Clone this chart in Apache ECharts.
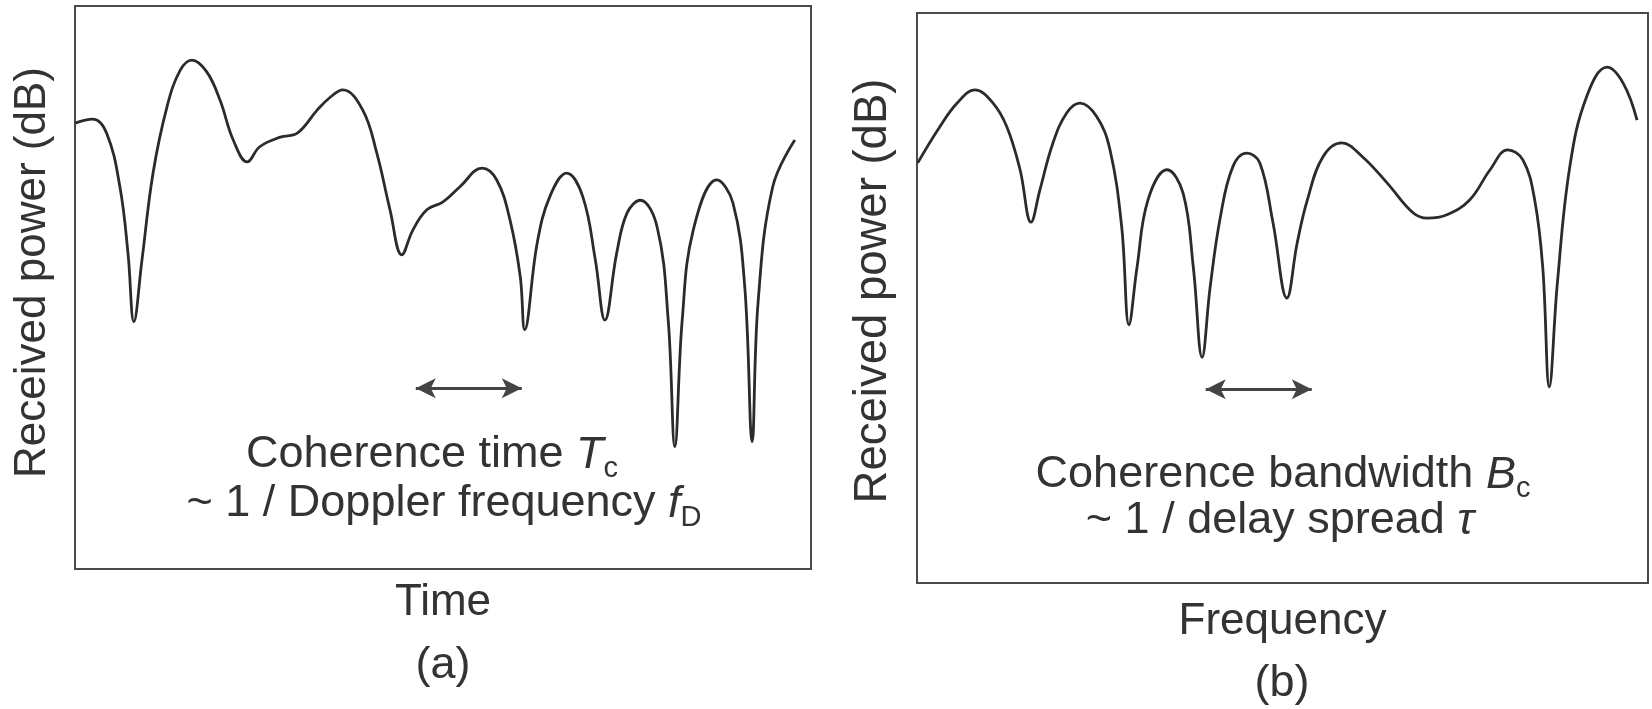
<!DOCTYPE html>
<html>
<head>
<meta charset="utf-8">
<script src="https://cdn.jsdelivr.net/npm/echarts@6.0.0/dist/echarts.min.js"></script>
<style>
  html, body { margin: 0; padding: 0; background: #fff; }
  #chart { width: 1652px; height: 709px; }
</style>
</head>
<body>
<div id="chart"></div>
<script>
// (a) received power against time (relative units)
var timeAxis = [0, 2.4, 4.3, 6.1, 7.2, 8.0, 9.1, 10.6, 12.5, 14.3,
  15.9, 17.9, 19.7, 21.5, 23.4, 25.1, 27.9, 30.2, 32.9, 34.6,
  36.4, 39.1, 41.0, 42.8, 44.4, 45.9, 47.8, 50.0, 52.3, 55.3,
  57.3, 59.1, 60.5, 61.1, 62.8, 64.5, 66.8, 69.0, 70.7, 72.0,
  73.6, 75.0, 76.8, 79.1, 80.6, 81.5, 82.5, 84.0, 87.2, 89.4,
  91.0, 92.0, 92.8, 94.8, 97.8];
var timePower = [79.2, 79.9, 77.4, 67.9, 56.1, 43.9, 54.9, 70.3, 82.1, 88.6,
  90.4, 88.3, 83.3, 76.2, 72.3, 75.0, 76.7, 77.4, 81.5, 83.7,
  85.1, 81.5, 73.9, 63.8, 55.8, 60.2, 63.8, 65.2, 67.9, 71.2,
  69.1, 62.0, 51.9, 42.5, 57.9, 66.1, 70.3, 66.1, 54.9, 44.2,
  56.1, 63.2, 65.5, 60.7, 44.2, 21.7, 44.2, 60.2, 69.1, 65.0,
  50.1, 22.6, 47.2, 67.9, 76.2];

// (b) received power against frequency (relative units)
var freqAxis = [0.1, 3.1, 5.5, 7.9, 10.4, 12.3, 14.1, 15.6, 16.8, 18.6,
  20.5, 22.3, 24.6, 26.4, 28.0, 29.0, 30.1, 31.6, 34.2, 36.4,
  37.8, 39.0, 40.1, 41.5, 43.2, 45.1, 46.9, 48.7, 50.6, 52.0,
  53.4, 55.5, 58.1, 61.0, 64.3, 67.9, 69.8, 72.5, 75.6, 78.4,
  80.8, 82.9, 84.5, 85.6, 86.5, 87.6, 89.3, 91.6, 94.4, 96.6,
  98.5];
var freqPower = [73.7, 80.0, 84.2, 86.5, 84.2, 80.0, 72.5, 63.3, 68.9, 77.2,
  82.5, 84.2, 81.8, 76.0, 62.5, 45.3, 55.4, 67.2, 72.5, 68.4,
  55.4, 39.6, 51.9, 64.2, 73.0, 75.4, 73.7, 63.2, 50.0, 59.6,
  67.2, 74.7, 77.2, 74.7, 70.2, 64.9, 64.0, 64.6, 67.2, 72.5,
  76.0, 74.2, 67.2, 55.4, 34.4, 52.6, 73.0, 85.3, 90.5, 87.7,
  81.2];

// double arrows: [from, to, level]
var timeArrow = [46.3, 60.7, 32.1];
var freqArrow = [39.5, 54.0, 34.0];

var FONT = '"Liberation Sans", Arial, Helvetica, sans-serif';
var INK = '#333';
var LINE = '#2b2b2b';

function pairs(xs, ys) {
  return xs.map(function (x, i) { return [x, ys[i]]; });
}

function xAx(idx, name, gap) {
  return {
    type: 'value', gridIndex: idx, min: 0, max: 100,
    axisLine: { show: false }, axisTick: { show: false },
    axisLabel: { show: false }, splitLine: { show: false },
    name: name, nameLocation: 'middle', nameGap: gap,
    nameTextStyle: { fontSize: 44, color: INK, fontFamily: FONT }
  };
}

function yAx(idx, gap, size, shift) {
  return {
    type: 'value', gridIndex: idx, min: 0, max: 100,
    axisLine: { show: false }, axisTick: { show: false },
    axisLabel: { show: false }, splitLine: { show: false },
    name: 'Received power (dB)', nameLocation: 'middle', nameRotate: 90, nameGap: gap,
    nameTextStyle: { fontSize: size, color: INK, fontFamily: FONT, padding: [0, 0, 0, shift] }
  };
}

function arrowLine(a) {
  return {
    silent: true,
    symbol: ['arrow', 'arrow'],
    symbolSize: [15, 20],
    label: { show: false },
    lineStyle: { color: '#444', width: 3, type: 'solid' },
    data: [[{ coord: [a[0], a[2]] }, { coord: [a[1], a[2]] }]]
  };
}

var rich = {
  n: { fontSize: 45, fontFamily: FONT, color: INK, lineHeight: 56 },
  i: { fontSize: 45, fontFamily: FONT, fontStyle: 'italic', color: INK, lineHeight: 56 },
  s: { fontSize: 29, fontFamily: FONT, color: INK, lineHeight: 30, verticalAlign: 'bottom' }
};

function note(x, y, text) {
  return {
    type: 'text', x: x, y: y, silent: true,
    style: {
      text: text, rich: rich, fill: INK, font: '45px ' + FONT,
      align: 'center', verticalAlign: 'middle',
      textAlign: 'center', textVerticalAlign: 'middle'
    }
  };
}

var chart = echarts.init(document.getElementById('chart'));
chart.setOption({
  backgroundColor: '#ffffff',
  animation: false,
  grid: [
    { left: 75, top: 6, width: 736, height: 563, show: true, borderColor: '#4a4a4a', borderWidth: 2 },
    { left: 917, top: 13, width: 731, height: 570, show: true, borderColor: '#4a4a4a', borderWidth: 2 }
  ],
  xAxis: [xAx(0, 'Time', 12), xAx(1, 'Frequency', 17)],
  yAxis: [yAx(0, 20, 44, 30), yAx(1, 21, 45.5, 14)],
  series: [
    {
      type: 'line', xAxisIndex: 0, yAxisIndex: 0,
      data: pairs(timeAxis, timePower),
      showSymbol: false, smooth: 0.4,
      lineStyle: { color: LINE, width: 2.8 },
      markLine: arrowLine(timeArrow)
    },
    {
      type: 'line', xAxisIndex: 1, yAxisIndex: 1,
      data: pairs(freqAxis, freqPower),
      showSymbol: false, smooth: 0.4,
      lineStyle: { color: LINE, width: 2.8 },
      markLine: arrowLine(freqArrow)
    }
  ],
  graphic: [
    note(432, 455, '{n|Coherence time }{i|T}{s|c}'),
    note(444, 504, '{n|~ 1 / Doppler frequency }{i|f}{s|D}'),
    note(1283, 475, '{n|Coherence bandwidth }{i|B}{s|c}'),
    note(1280, 521, '{n|~ 1 / delay spread }{i|\u03c4}'),
    note(443, 666, '{n|(a)}'),
    note(1282, 684, '{n|(b)}')
  ]
});
</script>
</body>
</html>
